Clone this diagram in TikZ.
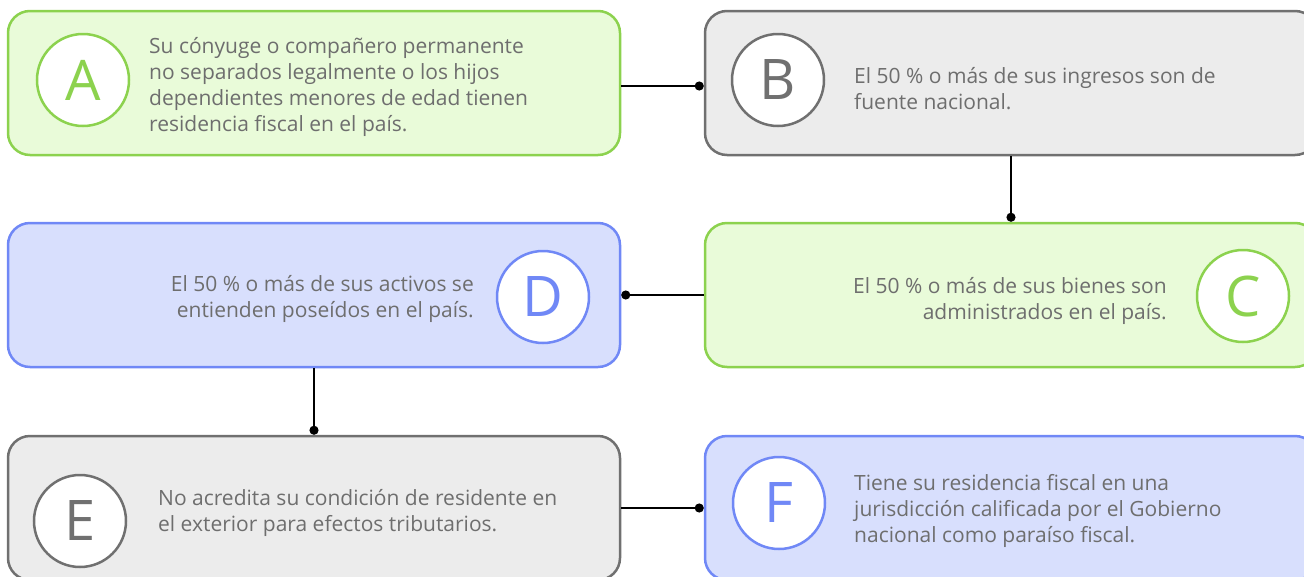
\documentclass[tikz,border=0pt]{standalone}
\usepackage{fontspec}
\setmainfont{Open Sans}
\usetikzlibrary{arrows.meta}
\definecolor{gfill}{HTML}{E9FBD9}
\definecolor{gline}{HTML}{8CD24E}
\definecolor{kfill}{HTML}{ECECEC}
\definecolor{kline}{HTML}{707070}
\definecolor{bfill}{HTML}{D8DFFD}
\definecolor{bline}{HTML}{7088F6}
\definecolor{txt}{HTML}{6E6E6E}
\begin{document}
\begin{tikzpicture}[x=1pt,y=-1pt,
  card/.style={draw, line width=2.5pt, rounded corners=22pt, minimum width=612pt, minimum height=144pt, inner sep=0pt},
  gcard/.style={card, draw=gline, fill=gfill},
  kcard/.style={card, draw=kline, fill=kfill},
  bcard/.style={card, draw=bline, fill=bfill},
  badge/.style={circle, draw, line width=2.5pt, fill=white, minimum size=92pt, inner sep=0pt, font=\fontsize{56}{56}\selectfont},
  desc/.style={text=txt, inner sep=0pt, font=\fontsize{21}{25.8}\selectfont},
  link/.style={line width=2.2pt, -{Circle[length=9pt,width=9pt]}}
]
\useasboundingbox (0,0) rectangle (1304,576);
\clip (0,0) rectangle (1304,576);
\node[gcard] (A) at (314,83) {};
\node[kcard] (B) at (1011,83) {};
\node[bcard] (D) at (314,295) {};
\node[gcard] (C) at (1011,295) {};
\node[kcard] (E) at (314,508) {};
\node[bcard] (F) at (1011,508) {};

\node[badge, draw=gline, text=gline] (cA) at (83,80) {A};
\node[badge, draw=kline, text=kline] (cB) at (778,80) {B};
\node[badge, draw=bline, text=bline] (cD) at (543,297) {D};
\node[badge, draw=gline, text=gline] (cC) at (1243,296) {C};
\node[badge, draw=kline, text=kline] (cE) at (80,521) {E};
\node[badge, draw=bline, text=bline] (cF) at (779,503) {F};

\node[desc, anchor=west, align=left] (tA) at (149,87) {Su cónyuge o compañero permanente\\no separados legalmente o los hijos\\dependientes menores de edad tienen\\residencia fiscal en el país.};
\node[desc, anchor=west, align=left] (tB) at (854,89) {El 50 \% o más de sus ingresos son de\\fuente nacional.};
\node[desc, anchor=east, align=right] (tD) at (474,299) {El 50 \% o más de sus activos se\\entienden poseídos en el país.};
\node[desc, anchor=east, align=right] (tC) at (1167,301) {El 50 \% o más de sus bienes son\\administrados en el país.};
\node[desc, anchor=west, align=left] (tE) at (158,513) {No acredita su condición de residente en\\el exterior para efectos tributarios.};
\node[desc, anchor=west, align=left] (tF) at (854,511) {Tiene su residencia fiscal en una\\jurisdicción calificada por el Gobierno\\nacional como paraíso fiscal.};

\draw[link] ([yshift=-3pt]A.east) -- ([yshift=-3pt]B.west);
\draw[link] (B.south) -- (C.north);
\draw[link] (C.west) -- (D.east);
\draw[link] (D.south) -- (E.north);
\draw[link] (E.east) -- (F.west);
\end{tikzpicture}
\end{document}
